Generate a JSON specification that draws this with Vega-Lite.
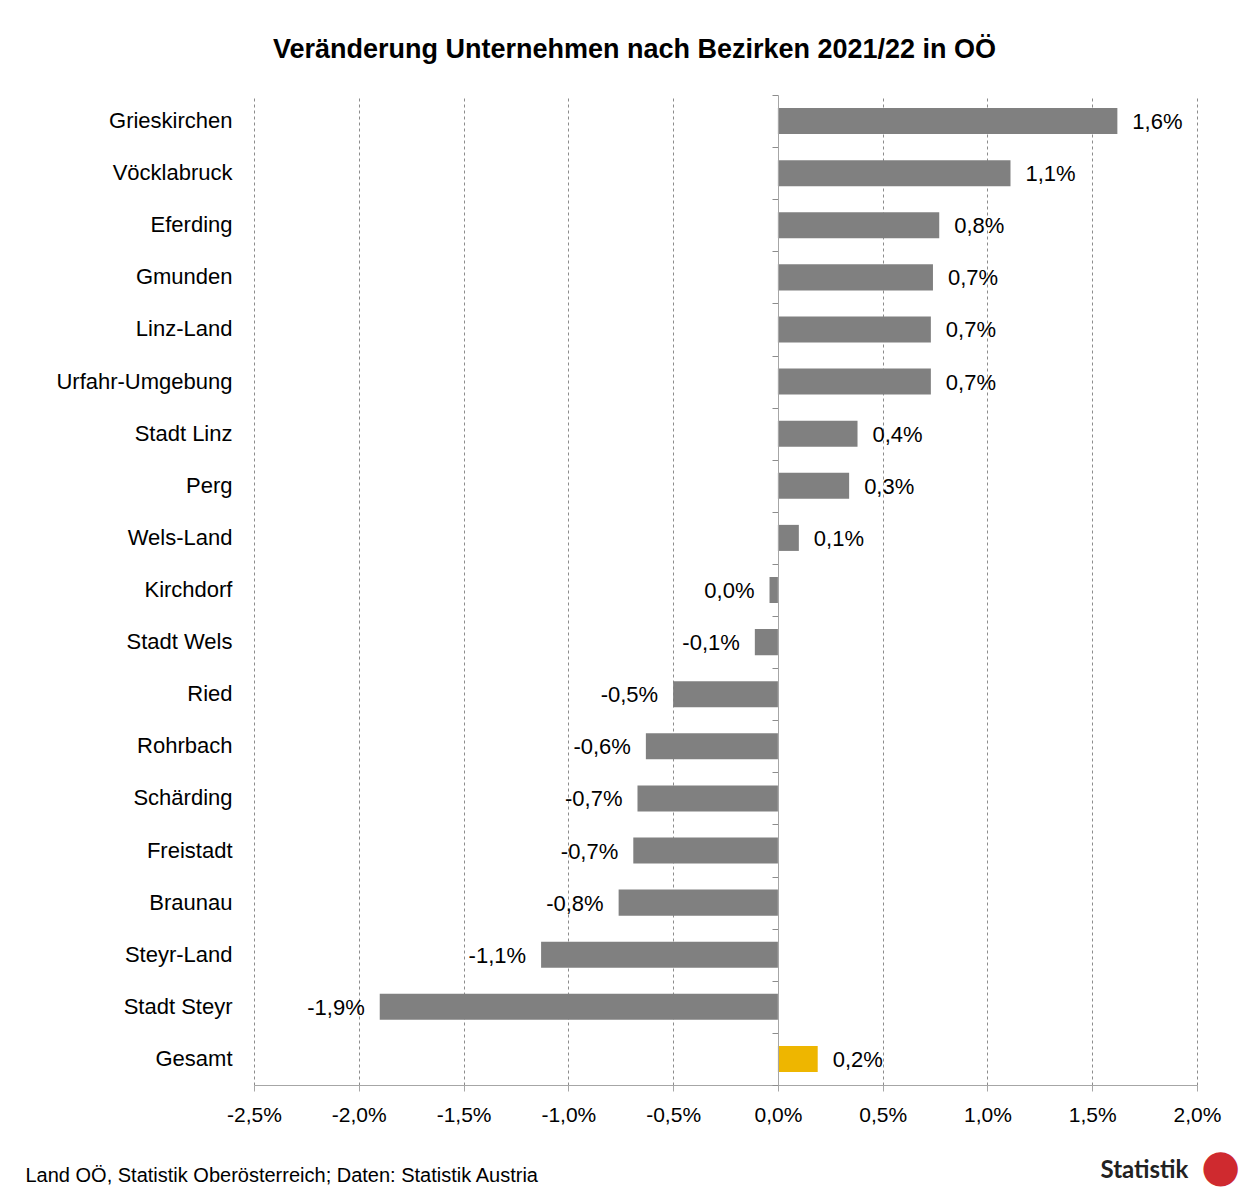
{
  "$schema": "https://vega.github.io/schema/vega-lite/v6.json",
  "autosize": {"type": "none"},
  "padding": {"left": 254, "top": 95, "right": 49, "bottom": 108},
  "width": 943,
  "height": 990,
  "background": "white",
  "title": {
    "text": "Veränderung Unternehmen nach Bezirken 2021/22 in OÖ",
    "font": "Liberation Sans",
    "fontWeight": "bold",
    "fontSize": 27,
    "color": "black",
    "anchor": "middle",
    "frame": "group",
    "dx": -91,
    "baseline": "alphabetic",
    "offset": 10
  },
  "config": {
    "locale": {
      "number": {"decimal": ",", "thousands": ".", "grouping": [3], "currency": ["", " €"], "minus": "-"}
    },
    "view": {"stroke": null},
    "font": "Liberation Sans"
  },
  "data": {
    "values": [
      {"bezirk": "Grieskirchen", "value": 0.0162, "typ": "Bezirk"},
      {"bezirk": "Vöcklabruck", "value": 0.0111, "typ": "Bezirk"},
      {"bezirk": "Eferding", "value": 0.0077, "typ": "Bezirk"},
      {"bezirk": "Gmunden", "value": 0.0074, "typ": "Bezirk"},
      {"bezirk": "Linz-Land", "value": 0.0073, "typ": "Bezirk"},
      {"bezirk": "Urfahr-Umgebung", "value": 0.0073, "typ": "Bezirk"},
      {"bezirk": "Stadt Linz", "value": 0.0038, "typ": "Bezirk"},
      {"bezirk": "Perg", "value": 0.0034, "typ": "Bezirk"},
      {"bezirk": "Wels-Land", "value": 0.0010, "typ": "Bezirk"},
      {"bezirk": "Kirchdorf", "value": -0.0004, "typ": "Bezirk"},
      {"bezirk": "Stadt Wels", "value": -0.0011, "typ": "Bezirk"},
      {"bezirk": "Ried", "value": -0.0050, "typ": "Bezirk"},
      {"bezirk": "Rohrbach", "value": -0.0063, "typ": "Bezirk"},
      {"bezirk": "Schärding", "value": -0.0067, "typ": "Bezirk"},
      {"bezirk": "Freistadt", "value": -0.0069, "typ": "Bezirk"},
      {"bezirk": "Braunau", "value": -0.0076, "typ": "Bezirk"},
      {"bezirk": "Steyr-Land", "value": -0.0113, "typ": "Bezirk"},
      {"bezirk": "Stadt Steyr", "value": -0.0190, "typ": "Bezirk"},
      {"bezirk": "Gesamt", "value": 0.0019, "typ": "Gesamt"}
    ]
  },
  "resolve": {"axis": {"y": "independent", "x": "independent"}},
  "layer": [
    {
      "mark": {"type": "bar", "height": {"band": 0.5}},
      "encoding": {
        "y": {
          "field": "bezirk", "type": "nominal", "sort": null,
          "scale": {"paddingInner": 0, "paddingOuter": 0},
          "axis": {
            "orient": "left", "offset": -524, "labels": false, "tickBand": "extent",
            "ticks": true, "tickSize": 6, "tickColor": "#8c8c8c", "domain": true,
            "domainColor": "#a6a6a6", "grid": false, "zindex": 1,
            "title": "●", "titleAngle": 0, "titleX": 442, "titleY": 1071,
            "titleAlign": "center", "titleBaseline": "middle", "titleColor": "#cf2a2f",
            "titleFontSize": 45, "titleFont": "DejaVu Sans", "titleFontWeight": "normal"
          }
        },
        "x": {
          "field": "value", "type": "quantitative",
          "scale": {"domain": [-0.025, 0.02], "nice": false, "zero": false},
          "axis": {
            "values": [-0.025, -0.02, -0.015, -0.01, -0.005, 0, 0.005, 0.01, 0.015, 0.02],
            "format": ".1%", "labelFontSize": 21, "labelColor": "black", "labelFont": "Liberation Sans",
            "tickSize": 6, "tickColor": "#a6a6a6", "domainColor": "#a6a6a6", "labelPadding": 13,
            "grid": true, "gridDash": [3, 3], "gridColor": "#8c8c8c", "gridWidth": 1,
            "labelFlush": false, "labelOverlap": false,
            "title": "Land OÖ, Statistik Oberösterreich; Daten: Statistik Austria",
            "titleX": -229, "titleY": 96, "titleAnchor": "start", "titleAlign": "left",
            "titleBaseline": "alphabetic", "titleFontSize": 20, "titleFontWeight": "normal",
            "titleColor": "black", "titleFont": "Liberation Sans"
          }
        },
        "color": {
          "field": "typ", "type": "nominal",
          "scale": {"domain": ["Bezirk", "Gesamt"], "range": ["#808080", "#eeb600"]},
          "legend": null
        }
      }
    },
    {
      "transform": [{"filter": "datum.value >= 0"}],
      "mark": {"type": "text", "align": "left", "dx": 15, "baseline": "middle", "dy": 1, "fontSize": 22, "color": "black"},
      "encoding": {
        "y": {
          "field": "bezirk", "type": "nominal", "sort": null,
          "scale": {"paddingInner": 0, "paddingOuter": 0},
          "axis": {
            "orient": "left", "offset": 0, "ticks": false, "domain": false, "grid": false,
            "labelFontSize": 22, "labelColor": "black", "labelPadding": 22, "labelFont": "Liberation Sans",
            "title": "Statistik", "titleAngle": 0, "titleX": 846, "titleY": 1082,
            "titleAlign": "left", "titleBaseline": "alphabetic", "titleFontSize": 24,
            "titleFont": "Lato", "titleFontWeight": "bold", "titleColor": "#222222"
          }
        },
        "x": {"field": "value", "type": "quantitative", "axis": null},
        "text": {"field": "value", "type": "quantitative", "format": ".1%"}
      }
    },
    {
      "transform": [{"filter": "datum.value < 0"}],
      "mark": {"type": "text", "align": "right", "dx": -15, "baseline": "middle", "dy": 1, "fontSize": 22, "color": "black"},
      "encoding": {
        "y": {"field": "bezirk", "type": "nominal", "sort": null, "scale": {"paddingInner": 0, "paddingOuter": 0}, "axis": null},
        "x": {"field": "value", "type": "quantitative", "axis": null},
        "text": {"field": "value", "type": "quantitative", "format": ".1%"}
      }
    }
  ]
}
